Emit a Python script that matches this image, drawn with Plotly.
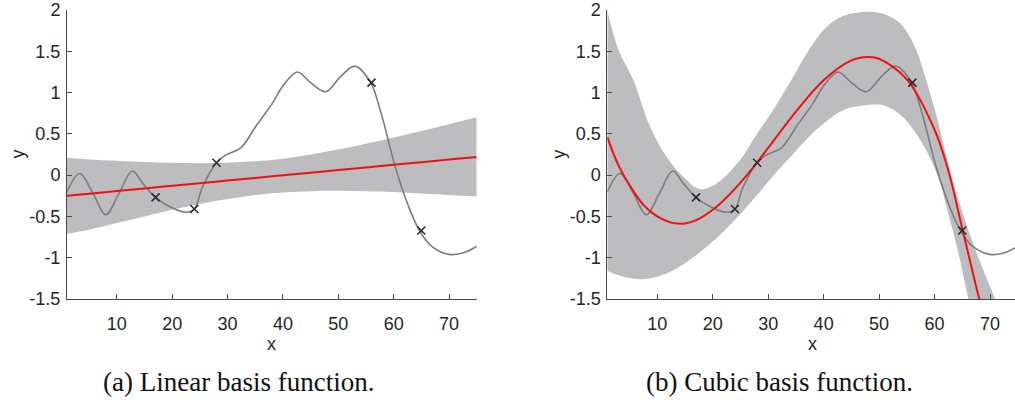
import plotly.graph_objects as go

# ---------------- data ----------------
# true (gray) function
true_x = [1, 3.3, 5.7, 8.0, 10.4, 12.8, 14.7, 17, 19.5, 22.5, 24, 25.5, 28, 29.7, 32.4,
          35, 36.5, 38, 40, 42.6, 45, 47.7, 50.5, 53, 55.8, 57.9, 60.2, 62.7, 64.7,
          67, 70, 73, 75]
true_y = [-0.20, 0.02, -0.22, -0.48, -0.22, 0.05, -0.10, -0.27, -0.38, -0.45, -0.41, -0.14,
          0.15, 0.245, 0.33, 0.58, 0.72, 0.86, 1.08, 1.25, 1.12, 1.01, 1.20, 1.32, 1.125,
          0.71, 0.12, -0.38, -0.676, -0.87, -0.96, -0.93, -0.86]

# observations
obs_x = [17, 24, 28, 56, 65]
obs_y = [-0.27, -0.41, 0.15, 1.12, -0.67]

# (a) linear basis function: mean and band
lin_x = [1, 5, 10, 15, 20, 25, 30, 35, 40, 45, 50, 55, 60, 65, 70, 75]
lin_mean = [-0.25, -0.225, -0.193, -0.161, -0.129, -0.098, -0.066, -0.034, -0.002,
            0.029, 0.061, 0.093, 0.125, 0.156, 0.188, 0.22]
lin_upper = [0.21, 0.19, 0.175, 0.16, 0.15, 0.145, 0.15, 0.167, 0.20, 0.25, 0.31,
             0.38, 0.455, 0.535, 0.617, 0.70]
lin_lower = [-0.71, -0.66, -0.58, -0.50, -0.42, -0.35, -0.29, -0.24, -0.21, -0.195,
             -0.19, -0.195, -0.205, -0.223, -0.241, -0.26]

# (b) cubic basis function: mean and band
cub_x = [1, 3, 5, 7.5, 10, 12.5, 15, 17.5, 20, 22.5, 25, 27.5, 30, 35, 40, 45, 48,
         50, 55, 60, 62.5, 65, 67.5, 68.5]
cub_mean = [0.46, 0.12, -0.12, -0.36, -0.50, -0.575, -0.585, -0.53, -0.42, -0.27,
            -0.09, 0.11, 0.33, 0.77, 1.15, 1.39, 1.43, 1.41, 1.16, 0.55, 0.05, -0.65,
            -1.35, -1.62]
cub_up_x = [1, 3, 5.7, 8.7, 11.7, 14.7, 17.7, 20.7, 24.9, 28, 30.9, 34, 37, 39.5,
            41.7, 44, 48, 51, 53.8, 55.5, 56.8, 58.5, 60.5, 62.8, 65.5, 68.2, 70.9, 72]
cub_up_y = [2.0, 1.52, 1.15, 0.59, 0.22, -0.02, -0.17, -0.10, 0.18, 0.50, 0.79, 1.13,
            1.48, 1.72, 1.86, 1.94, 1.98, 1.95, 1.84, 1.68, 1.50, 1.15, 0.68, 0.05,
            -0.55, -1.05, -1.50, -1.70]
cub_lo_x = [1, 4, 7, 10, 13, 16, 19, 22, 25, 28, 31, 34, 37.6, 41, 44, 48, 51, 54,
            57.4, 60.4, 62.8, 64.5, 66.1, 67]
cub_lo_y = [-1.16, -1.23, -1.26, -1.23, -1.15, -1.02, -0.86, -0.68, -0.47, -0.24, 0.0,
            0.22, 0.48, 0.68, 0.80, 0.85, 0.84, 0.72, 0.43, 0.02, -0.55, -1.00, -1.50,
            -1.75]

y_ticks = [-1.5, -1, -0.5, 0, 0.5, 1, 1.5, 2]
y_labels = ["-1.5", "-1", "-0.5", "0", "0.5", "1", "1.5", "2"]
x_ticks = [10, 20, 30, 40, 50, 60, 70]
x_labels = ["10", "20", "30", "40", "50", "60", "70"]
captions = ["(a) Linear basis function.", "(b) Cubic basis function."]

# ---------------- styles ----------------
BAND = "#bdbdbf"
GRAY = "#7d7d7d"
RED = "#ee1111"
MARK = "#2b2b2b"
AX = "#4a4a4a"
TXT = "#262626"

fig = go.Figure()


def add_panel(xa, ya, mx, my, ux, uy, lx, ly):
    fig.add_trace(go.Scatter(x=lx, y=ly, mode="lines", line=dict(width=0, color=BAND,
                  shape="spline"), hoverinfo="skip", showlegend=False, xaxis=xa, yaxis=ya))
    fig.add_trace(go.Scatter(x=ux, y=uy, mode="lines", line=dict(width=0, color=BAND,
                  shape="spline"), fill="tonexty", fillcolor=BAND, hoverinfo="skip",
                  showlegend=False, xaxis=xa, yaxis=ya))
    fig.add_trace(go.Scatter(x=true_x, y=true_y, mode="lines",
                  line=dict(color=GRAY, width=1.6, shape="spline", smoothing=1.0),
                  showlegend=False, xaxis=xa, yaxis=ya))
    fig.add_trace(go.Scatter(x=mx, y=my, mode="lines",
                  line=dict(color=RED, width=2, shape="spline"),
                  showlegend=False, xaxis=xa, yaxis=ya))
    fig.add_trace(go.Scatter(x=obs_x, y=obs_y, mode="markers",
                  marker=dict(symbol="x-thin", size=8, line=dict(color=MARK, width=1.6)),
                  showlegend=False, xaxis=xa, yaxis=ya))


add_panel("x", "y", lin_x, lin_mean, lin_x, lin_upper, lin_x, lin_lower)
add_panel("x2", "y2", cub_x, cub_mean, cub_up_x, cub_up_y, cub_lo_x, cub_lo_y)

W, H = 1015, 400
ytop, ybot = 10, 299
ydom = [1 - ybot / H, 1 - ytop / H]

tick_font = dict(family="Liberation Sans", size=18, color=TXT)
common_x = dict(showline=True, linecolor=AX, linewidth=1, ticks="inside", ticklen=5,
                tickcolor=AX, showgrid=False, zeroline=False, tickvals=x_ticks,
                ticktext=x_labels, tickfont=tick_font, ticklabelstandoff=8,
                mirror=False, automargin=False)
common_y = dict(showline=True, linecolor=AX, linewidth=1, ticks="inside", ticklen=5,
                tickcolor=AX, showgrid=False, zeroline=False, tickvals=y_ticks,
                ticktext=y_labels, tickfont=tick_font, range=[-1.5, 2], mirror=False,
                ticklabelstandoff=2, automargin=False)

fig.update_layout(
    width=W, height=H, margin=dict(l=0, r=0, t=0, b=0, pad=0, autoexpand=False),
    paper_bgcolor="white", plot_bgcolor="white", showlegend=False,
    xaxis=dict(domain=[67 / W, 476.7 / W], range=[1, 75], anchor="y", **common_x),
    yaxis=dict(domain=ydom, anchor="x", **common_y),
    xaxis2=dict(domain=[607.3 / W, 1.0], range=[1, 74.5], anchor="y2", **common_x),
    yaxis2=dict(domain=ydom, anchor="x2", **common_y),
)

ann = []
label_font = dict(family="Liberation Sans", size=18, color=TXT)
cap_font = dict(family="Liberation Serif", size=27, color="#111111")
for xc, yl_x, cap_x, cap in [(271.8, 17.0, 238.0, captions[0]),
                             (812.7, 558.3, 779.0, captions[1])]:
    ann.append(dict(text="x", x=xc / W, y=1 - 344 / H, xref="paper", yref="paper",
                    showarrow=False, font=label_font, xanchor="center", yanchor="middle"))
    ann.append(dict(text="y", x=yl_x / W, y=1 - 154.5 / H, xref="paper", yref="paper",
                    showarrow=False, font=label_font, textangle=-90,
                    xanchor="center", yanchor="middle"))
    ann.append(dict(text=cap, x=cap_x / W, y=1 - 381.5 / H, xref="paper", yref="paper",
                    showarrow=False, font=cap_font, xanchor="center", yanchor="middle"))
fig.update_layout(annotations=ann)

fig.write_html("out.html",
               config={"displayModeBar": False},
               post_script="document.body.style.margin='0px';"
                           "document.documentElement.style.overflow='hidden';")
